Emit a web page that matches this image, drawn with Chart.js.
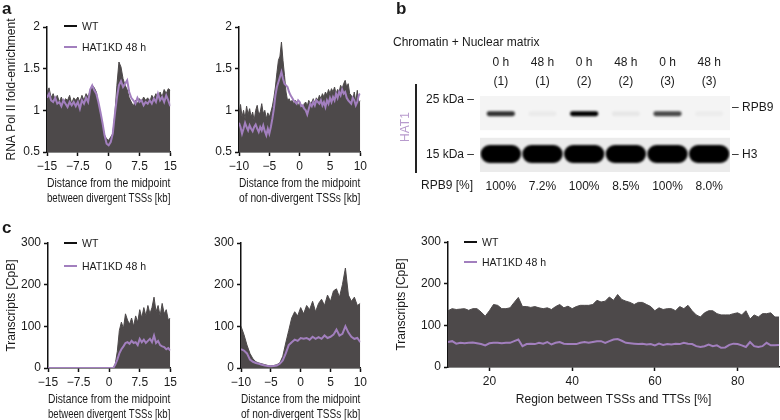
<!DOCTYPE html>
<html>
<head>
<meta charset="utf-8">
<script src="https://cdn.jsdelivr.net/npm/chart.js@4.4.1/dist/chart.umd.min.js"></script>
<style>
html, body { margin: 0; padding: 0; width: 780px; height: 420px; overflow: hidden; background: #fff; }
body { position: relative; font-family: 'Liberation Sans', Arial, sans-serif; color: #1a1a1a; }
canvas { position: absolute; }
.t { position: absolute; font-size: 12px; line-height: 14px; white-space: nowrap; }
.lg { position: absolute; font-size: 10.5px; line-height: 14px; white-space: nowrap; }
.lg i { display: inline-block; width: 13px; height: 2px; margin-right: 5px; vertical-align: middle; position: relative; top: -1px; }
.p { position: absolute; font-weight: bold; font-size: 17px; line-height: 18px; }
</style>
</head>
<body>
<canvas id="aL" width="180" height="210" style="left:0;top:0"></canvas>
<canvas id="aR" width="180" height="210" style="left:190px;top:0"></canvas>
<canvas id="cL" width="180" height="216" style="left:0;top:210px"></canvas>
<canvas id="cM" width="180" height="216" style="left:190px;top:210px"></canvas>
<canvas id="cR" width="390" height="201" style="left:390px;top:210px"></canvas>
<canvas id="blot" width="390" height="160" style="left:390px;top:45px"></canvas>

<div class="p" style="left:2px;top:0">a</div>
<div class="p" style="left:396px;top:0">b</div>
<div class="p" style="left:2px;top:219px">c</div>

<div class="lg" style="left:64px;top:19px"><i style="background:#111"></i>WT</div>
<div class="lg" style="left:64px;top:40px"><i style="background:#a27fbe"></i>HAT1KD 48 h</div>
<div class="lg" style="left:64px;top:236px"><i style="background:#111"></i>WT</div>
<div class="lg" style="left:64px;top:259px"><i style="background:#a27fbe"></i>HAT1KD 48 h</div>
<div class="lg" style="left:464px;top:235px"><i style="background:#111"></i>WT</div>
<div class="lg" style="left:464px;top:255px"><i style="background:#a27fbe"></i>HAT1KD 48 h</div>

<div class="t" style="left:393px;top:35px">Chromatin + Nuclear matrix</div>
<div class="t" style="left:426px;top:92px">25 kDa &ndash;</div>
<div class="t" style="left:426px;top:147px">15 kDa &ndash;</div>
<div class="t" style="left:732px;top:100px">&ndash; RPB9</div>
<div class="t" style="left:732px;top:147px">&ndash; H3</div>
<div class="t" style="left:421px;top:178px">RPB9 [%]</div>
<div style="position:absolute;left:415px;top:84px;width:2px;height:89px;background:#222"></div>
<div class="t" style="left:386px;top:120px;width:38px;text-align:center;color:#b89bcd;transform:rotate(-90deg)">HAT1</div>

<script>
// panel a: RNA Pol II fold-enrichment
var xDiv = [-15,-14.5,-14,-13.5,-13,-12.5,-12,-11.5,-11,-10.5,-10,-9.5,-9,-8.5,-8,-7.5,-7,-6.5,-6,-5.5,-5,-4.5,-4,-3.5,-3,-2.5,-2,-1.5,-1,-0.5,0,0.5,1,1.5,2,2.5,3,3.5,4,4.5,5,5.5,6,6.5,7,7.5,8,8.5,9,9.5,10,10.5,11,11.5,12,12.5,13,13.5,14,14.5,15];
var xNonFine = [-10,-9.75,-9.5,-9.25,-9,-8.75,-8.5,-8.25,-8,-7.75,-7.5,-7.25,-7,-6.75,-6.5,-6.25,-6,-5.75,-5.5,-5.25,-5,-4.75,-4.5,-4.25,-4,-3.75,-3.5,-3.25,-3,-2.75,-2.5,-2.25,-2,-1.75,-1.5,-1.25,-1,-0.75,-0.5,-0.25,0,0.25,0.5,0.75,1,1.25,1.5,1.75,2,2.25,2.5,2.75,3,3.25,3.5,3.75,4,4.25,4.5,4.75,5,5.25,5.5,5.75,6,6.25,6.5,6.75,7,7.25,7.5,7.75,8,8.25,8.5,8.75,9,9.25,9.5,9.75,10];
var xNon = [-10,-9.5,-9,-8.5,-8,-7.5,-7,-6.5,-6,-5.5,-5,-4.5,-4,-3.5,-3,-2.5,-2,-1.5,-1,-0.5,0,0.5,1,1.5,2,2.5,3,3.5,4,4.5,5,5.5,6,6.5,7,7.5,8,8.5,9,9.5,10];
var xRegion = [10,11,12,13,14,15,16,17,18,19,20,21,22,23,24,25,26,27,28,29,30,31,32,33,34,35,36,37,38,39,40,41,42,43,44,45,46,47,48,49,50,51,52,53,54,55,56,57,58,59,60,61,62,63,64,65,66,67,68,69,70,71,72,73,74,75,76,77,78,79,80,81,82,83,84,85,86,87,88,89,90];

var polDivWT = [1.22,1.27,1.15,1.2,1.12,1.18,1.1,1.16,1.08,1.14,1.12,1.18,1.08,1.15,1.12,1.16,1.1,1.18,1.12,1.2,1.16,1.24,1.3,1.27,1.22,1.08,0.95,0.82,0.7,0.66,0.64,0.68,0.72,0.95,1.3,1.58,1.52,1.38,1.3,1.25,1.15,1.1,1.05,1.12,1.08,1.14,1.1,1.16,1.12,1.15,1.1,1.18,1.14,1.2,1.12,1.22,1.16,1.25,1.2,1.26,1.24];
var polDivKD = [1.15,1.2,1.12,1.1,1.15,1.08,1.1,1.05,1.12,1.08,1.04,1.1,1.06,1.1,1.05,1.1,1.02,1.12,1.08,1.15,1.1,1.25,1.3,1.24,1.2,1.1,0.98,0.85,0.7,0.6,0.58,0.62,0.72,0.95,1.15,1.3,1.35,1.28,1.32,1.36,1.22,1.15,1.12,1.08,1.15,1.1,1.12,1.06,1.1,1.08,1.12,1.08,1.14,1.1,1.2,1.12,1.16,1.1,1.18,1.12,1.05];
var polNonWT = [0.95,1.07,0.92,1.0,0.9,1.05,0.95,1.02,0.92,0.98,0.88,1.0,1.06,0.95,0.98,1.08,0.96,1.0,0.9,0.97,0.92,0.98,1.05,1.15,1.28,1.45,1.6,1.65,1.82,1.6,1.42,1.22,1.12,1.14,1.1,1.12,1.08,1.12,1.1,1.05,1.1,1.06,1.02,1.08,1.1,1.05,1.12,1.08,1.1,1.14,1.08,1.15,1.12,1.18,1.14,1.2,1.16,1.22,1.18,1.25,1.2,1.26,1.22,1.28,1.2,1.25,1.22,1.3,1.26,1.32,1.36,1.28,1.32,1.2,1.18,1.12,1.22,1.1,1.24,1.08,1.12];
var polNonKD = [0.85,0.8,0.72,0.78,0.85,0.8,0.76,0.82,0.78,0.75,0.8,0.83,0.78,0.74,0.8,0.76,0.82,0.75,0.7,0.78,0.72,0.8,0.9,1.02,1.18,1.28,1.34,1.4,1.46,1.38,1.32,1.3,1.28,1.22,1.18,1.15,1.12,1.1,1.08,1.12,1.1,1.05,1.06,1.02,1.0,0.95,1.02,1.08,1.05,1.1,1.06,1.12,1.1,1.08,1.12,1.06,1.1,1.04,1.12,1.08,1.15,1.1,1.16,1.12,1.2,1.15,1.22,1.18,1.25,1.2,1.22,1.15,1.12,1.1,1.08,1.15,1.12,1.06,1.1,1.18,1.2];

// panel c: transcripts [CpB]
var trDivWT = [0,0,0,0,0,0,0,0,0,0,0,0,0,0,0,0,0,0,0,0,0,0,0,0,0,0,0,0,0,0,0,0,0,10,40,90,110,95,130,115,105,120,100,125,110,140,120,145,125,150,130,145,170,135,150,125,155,130,140,115,120];
var trDivKD = [0,0,0,0,0,0,0,0,0,0,0,0,0,0,0,0,0,0,0,0,0,0,0,0,0,0,0,0,0,0,0,0,0,8,20,35,45,52,60,62,58,65,60,62,55,70,62,68,60,65,70,62,78,60,65,55,52,50,45,48,42];
var trNonWT = [100,80,55,35,22,15,12,10,8,6,5,6,8,12,28,60,90,120,135,125,145,130,150,140,160,135,155,165,150,175,160,185,190,170,200,240,175,160,170,150,155];
var trNonKD = [45,42,35,20,15,12,10,8,6,5,4,5,6,10,18,35,55,62,68,65,72,70,72,68,75,70,74,70,78,72,75,80,92,78,82,100,85,75,70,72,62];
var trRegWT = [135,140,138,139,140,136,140,140,132,122,135,150,148,140,140,142,155,167,145,145,143,145,142,140,142,138,145,150,142,146,140,145,148,148,148,150,160,156,158,168,160,174,162,158,155,150,155,155,150,145,135,142,138,140,140,135,145,140,148,135,125,120,130,135,135,128,125,125,125,128,130,125,135,115,125,120,128,128,130,120,120];
var trRegKD = [60,62,56,58,57,58,59,57,55,52,57,58,58,57,58,58,62,66,50,55,56,55,58,56,60,54,58,60,56,55,55,55,58,60,58,60,62,62,58,62,66,67,63,58,57,56,55,56,54,55,52,56,53,55,54,56,55,58,56,55,50,48,50,54,50,52,46,47,53,56,55,52,48,60,50,48,50,58,52,52,53];

var ticksDiv = [-15, -7.5, 0, 7.5, 15];
var ticksNon = [-10, -5, 0, 5, 10];
var ticksReg = [20, 40, 60, 80];
var ticksPol = [0.5, 1, 1.5, 2];
var ticksTr = [0, 100, 200, 300];

// panel b: western blot
var laneLabels = [['0 h', '(1)'], ['48 h', '(1)'], ['0 h', '(2)'], ['48 h', '(2)'], ['0 h', '(3)'], ['48 h', '(3)']];
var rpb9Pct = ['100%', '7.2%', '100%', '8.5%', '100%', '8.0%'];
var rpb9Signal = [0.8, 0.04, 1.0, 0.05, 0.7, 0.03];
var h3Signal = [1, 1, 1, 1, 1, 1];

var GRAY = '#4d494a';
var PURPLE = '#a27fbe';
var INK = '#1a1a1a';

Chart.defaults.font.family = "'Liberation Sans', Arial, sans-serif";
Chart.defaults.font.size = 12;
Chart.defaults.color = INK;

function axis(min, max, ticks, title, dir, size) {
    return {
        type: 'linear',
        min: min,
        max: max,
        afterBuildTicks: function (s) {
            s.ticks = ticks.map(function (v) { return { value: v }; });
        },
        afterFit: function (s) {
            if (dir === 'x') s.height = size; else s.width = size;
        },
        ticks: {
            color: INK,
            padding: 3,
            maxRotation: 0,
            autoSkip: false,
            callback: function (v) { return String(v).replace('-', '\u2212'); }
        },
        grid: { drawOnChartArea: false, drawTicks: true, tickLength: 4, tickColor: '#111', tickWidth: 1.5 },
        border: { display: true, color: '#111', width: 1.5 },
        title: {
            display: !!title,
            text: title || '',
            color: INK,
            font: { size: 12, lineHeight: 1.25 },
            padding: { top: 4, bottom: 4 }
        }
    };
}

function profile(id, xs, wt, kd, o) {
    var pts = function (ys) {
        return xs.map(function (x, i) { return { x: x, y: ys[i] }; });
    };
    return new Chart(document.getElementById(id), {
        type: 'line',
        data: {
            datasets: [
                { label: 'WT', data: pts(wt), order: 1, borderColor: GRAY, backgroundColor: GRAY, borderWidth: 1, pointRadius: 0, fill: 'start', tension: 0 },
                { label: 'HAT1KD 48 h', data: pts(kd), order: 0, borderColor: PURPLE, borderWidth: 2, pointRadius: 0, fill: false, tension: 0 }
            ]
        },
        options: {
            responsive: false,
            animation: false,
            events: [],
            layout: { padding: { top: o.top, right: o.right, bottom: 0, left: 0 } },
            plugins: { legend: { display: false }, tooltip: { enabled: false } },
            scales: {
                x: axis(xs[0], xs[xs.length - 1], o.xTicks, o.xTitle, 'x', o.xH),
                y: axis(o.yMin, o.yMax, o.yTicks, o.yTitle, 'y', o.yW)
            }
        }
    });
}

var titleDiv = ['Distance from the midpoint', 'between divergent TSSs [kb]'];
var titleNon = ['Distance from the midpoint', 'of non-divergent TSSs [kb]'];

profile('aL', xDiv, polDivWT, polDivKD, { top: 27, right: 8, yW: 47, xH: 58, xTicks: ticksDiv, xTitle: titleDiv, yMin: 0.5, yMax: 2, yTicks: ticksPol, yTitle: 'RNA Pol II fold-enrichment' });
profile('aR', xNonFine, polNonWT, polNonKD, { top: 27, right: 6, yW: 49, xH: 58, xTicks: ticksNon, xTitle: titleNon, yMin: 0.5, yMax: 2, yTicks: ticksPol, yTitle: null });
profile('cL', xDiv, trDivWT, trDivKD, { top: 33, right: 8, yW: 48, xH: 58, xTicks: ticksDiv, xTitle: titleDiv, yMin: 0, yMax: 300, yTicks: ticksTr, yTitle: 'Transcripts [CpB]' });
profile('cM', xNon, trNonWT, trNonKD, { top: 33, right: 5, yW: 51, xH: 58, xTicks: ticksNon, xTitle: titleNon, yMin: 0, yMax: 300, yTicks: ticksTr, yTitle: null });
profile('cR', xRegion, trRegWT, trRegKD, { top: 32, right: 1, yW: 58, xH: 44, xTicks: ticksReg, xTitle: 'Region between TSSs and TTSs [%]', yMin: 0, yMax: 300, yTicks: ticksTr, yTitle: 'Transcripts [CpB]' });

// blot membranes behind the bands, bands softened with a blur
var blotPlugin = {
    id: 'blot',
    beforeDatasetsDraw: function (chart) {
        var ctx = chart.ctx, a = chart.chartArea, y = chart.scales.y;
        ctx.save();
        ctx.fillStyle = '#f4f4f4';
        ctx.fillRect(a.left, y.getPixelForValue(2), a.right - a.left, y.getPixelForValue(1.1) - y.getPixelForValue(2));
        ctx.fillStyle = '#ebebeb';
        ctx.fillRect(a.left, y.getPixelForValue(0.9), a.right - a.left, y.getPixelForValue(0) - y.getPixelForValue(0.9));
        ctx.filter = 'blur(1.3px)';
    },
    afterDatasetsDraw: function (chart) {
        chart.ctx.restore();
    }
};

new Chart(document.getElementById('blot'), {
    type: 'bar',
    data: {
        labels: rpb9Pct,
        datasets: [
            {
                label: 'RPB9',
                data: rpb9Signal.map(function () { return [1.47, 1.6]; }),
                backgroundColor: rpb9Signal.map(function (s) { return 'rgba(0,0,0,' + s + ')'; }),
                barPercentage: 0.68,
                categoryPercentage: 1,
                borderRadius: 3,
                borderSkipped: false,
                grouped: false
            },
            {
                label: 'H3',
                data: h3Signal.map(function () { return [0.24, 0.71]; }),
                backgroundColor: h3Signal.map(function (s) { return 'rgba(0,0,0,' + s + ')'; }),
                barPercentage: 0.97,
                categoryPercentage: 1,
                borderRadius: 9,
                borderSkipped: false,
                grouped: false
            }
        ]
    },
    options: {
        responsive: false,
        animation: false,
        events: [],
        layout: { padding: { top: 0, right: 50, bottom: 0, left: 90 } },
        plugins: { legend: { display: false }, tooltip: { enabled: false } },
        scales: {
            x: {
                type: 'category', position: 'bottom', offset: true,
                grid: { display: false, drawTicks: false }, border: { display: false },
                ticks: { padding: 7, color: INK },
                afterFit: function (s) { s.height = 33; }
            },
            x2: {
                type: 'category', position: 'top', offset: true, labels: laneLabels,
                grid: { display: false, drawTicks: false }, border: { display: false },
                ticks: { padding: 5, color: INK, font: { size: 12, lineHeight: 1.58 } },
                afterFit: function (s) { s.height = 51; }
            },
            y: { display: false, min: 0, max: 2 }
        }
    },
    plugins: [blotPlugin]
});
</script>
</body>
</html>
